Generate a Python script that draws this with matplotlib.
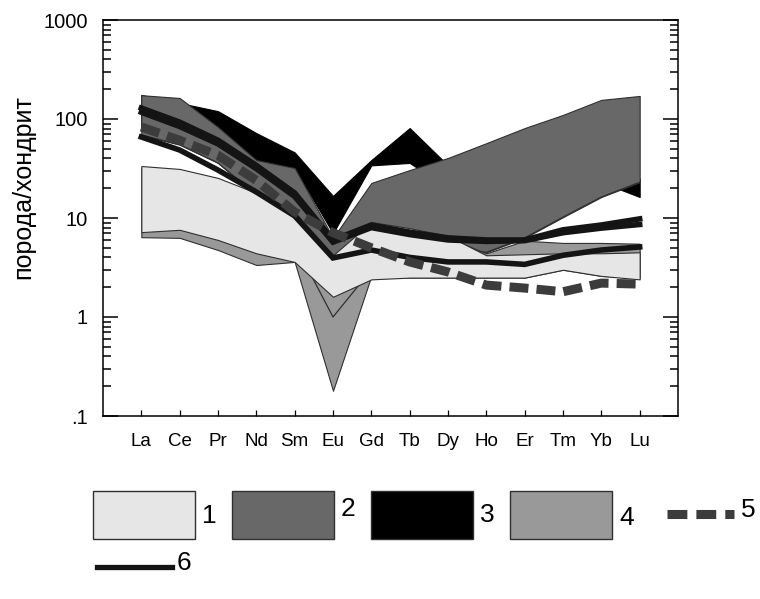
import numpy as np
import matplotlib
matplotlib.use('Agg')
import matplotlib.pyplot as plt
from matplotlib.patches import Rectangle
from matplotlib.ticker import FixedLocator, FixedFormatter, LogLocator, NullFormatter

plt.rcParams['font.family'] = ['Liberation Sans', 'DejaVu Sans']

# REE, chondrite-normalised
elements = ['La', 'Ce', 'Pr', 'Nd', 'Sm', 'Eu', 'Gd', 'Tb', 'Dy', 'Ho', 'Er', 'Tm', 'Yb', 'Lu']

# fields: upper / lower envelopes
field1_hi = [33.5, 31.3, 25.4, 17.9, 11.5, 4.2, 9.1, 7.9, 6.6, 4.2, 4.3, 4.4, 4.4, 4.5]
field1_lo = [7.2, 7.6, 6.0, 4.4, 3.6, 1.6, 2.4, 2.5, 2.5, 2.5, 2.5, 3.0, 2.6, 2.4]
field2_hi = [174, 163, 83, 38.5, 32, 6.3, 22.6, 30.5, 40.4, 57, 81, 110, 156, 171]
field2_lo = [69, 55, 36, 17, 5.5, 1.0, 3.0, 4.75, 5.0, 4.5, 6.3, 10.2, 16.3, 23]
field3_hi = [175, 145, 120, 72, 46, 16.7, 38.5, 81, 34, 38, 48, 61, 60, 25]
field3_lo = [81, 70, 55, 38, 32, 7.0, 34, 36, 20, 14, 12, 13, 23, 16.3]
field4_hi = [32, 30.5, 24.2, 17.1, 10.7, 4.0, 8.5, 7.2, 6.3, 4.4, 5.9, 5.6, 5.6, 5.5]
field4_lo = [6.4, 6.3, 4.75, 3.35, 3.6, 0.18, 2.6, 2.5, 2.5, 2.5, 2.5, 3.0, 2.6, 2.5]

# single samples
sample5 = [83, 61, 43, 24, 11.5, 7.1, 5.0, 3.6, 2.85, 2.1, 1.96, 1.8, 2.2, 2.15]
sample6a = [129, 93, 61, 34, 17.9, 6.0, 8.5, 7.2, 6.3, 6.0, 6.0, 7.6, 8.5, 9.8]
sample6b = [117, 84, 56, 31.5, 16.5, 5.7, 8.0, 6.8, 6.0, 5.8, 5.9, 7.1, 7.9, 8.6]
sample6c = [65.8, 48.6, 30.5, 18.3, 10.5, 3.95, 4.75, 4.0, 3.6, 3.6, 3.4, 4.2, 4.75, 5.1]

legend_labels = ['1', '2', '3', '4', '5', '6']
c1, c2, c3, c4 = '#e6e6e6', '#686868', '#000000', '#999999'
c5, c6 = '#3c3c3c', '#141414'
edge = '#303030'

x = np.arange(len(elements))

fig = plt.figure(figsize=(7.6, 5.99), dpi=100)
ax = fig.add_axes([103 / 760, 1 - 416 / 599, 575 / 760, 396 / 599])

ax.fill_between(x, field3_lo, field3_hi, facecolor=c3, edgecolor=c3, lw=0.8, zorder=1)
ax.fill_between(x, field2_lo, field2_hi, facecolor=c2, edgecolor=edge, lw=0.8, zorder=2)
ax.fill_between(x, field4_lo, field4_hi, facecolor=c4, edgecolor=edge, lw=0.8, zorder=3)
ax.plot(x, field2_lo, color=edge, lw=0.9, zorder=4)
ax.fill_between(x, field1_lo, field1_hi, facecolor=c1, edgecolor=edge, lw=0.8, zorder=5)

for s in (sample6a, sample6b, sample6c):
    ax.plot(x, s, color=c6, lw=4.0, solid_joinstyle='miter', zorder=6)
ax.plot(x, sample5, color=c5, lw=6.5, dashes=(2.1, 0.9), dash_capstyle='butt', zorder=7)

ax.set_yscale('log')
ax.set_ylim(0.1, 1000)
ax.set_xlim(-1, 14)
ax.yaxis.set_major_locator(FixedLocator([0.1, 1, 10, 100, 1000]))
ax.yaxis.set_major_formatter(FixedFormatter(['.1', '1', '10', '100', '1000']))
ax.yaxis.set_minor_locator(LogLocator(base=10, subs=np.arange(2, 10)))
ax.yaxis.set_minor_formatter(NullFormatter())
ax.set_xticks(x)
ax.set_xticklabels(elements)

for sp in ax.spines.values():
    sp.set_linewidth(1.1)
ax.tick_params(axis='y', which='both', direction='in', left=True, right=True,
               labelsize=14.5, pad=11, width=1.1)
ax.tick_params(axis='y', which='major', length=10.5)
ax.tick_params(axis='y', which='minor', length=5.5)
ax.tick_params(axis='x', direction='in', length=4, width=0.9, labelsize=13.5, pad=12)

ax.set_ylabel('порода/хондрит', fontsize=18)
ax.yaxis.set_label_coords(-0.118, 0.578)

# legend drawn in pixel space below the plot
lax = fig.add_axes([0, 0, 1, 1])
lax.set_xlim(0, 760)
lax.set_ylim(599, 0)
lax.axis('off')
box_fill = [c1, c2, c3, c4]
box_x = [93, 232, 371, 510]
lab_y = [516, 509, 515, 518]
for fc, bx, lab, ly in zip(box_fill, box_x, legend_labels[:4], lab_y):
    lax.add_patch(Rectangle((bx, 491), 102, 48, facecolor=fc, edgecolor=edge, lw=1.0))
    lax.text(bx + 109, ly, lab, fontsize=19, ha='left', va='center')
lax.plot([667, 734], [514, 514], color=c5, lw=6.5, dashes=(2.2, 1.0), dash_capstyle='butt')
lax.text(741, 510, legend_labels[4], fontsize=19, ha='left', va='center')
lax.plot([97, 172], [567, 567], color=c6, lw=3.8)
lax.text(177, 563, legend_labels[5], fontsize=19, ha='left', va='center')

fig.savefig('out.png', dpi=100)
